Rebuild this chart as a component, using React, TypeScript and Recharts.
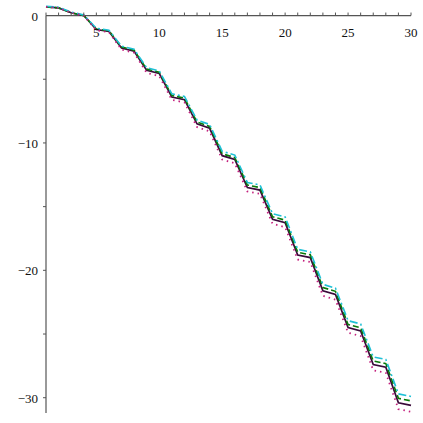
import { LineChart, Line, XAxis, YAxis, ReferenceLine } from "recharts";

const xs = [
  1, 2, 3, 4, 5, 6, 7, 8, 9, 10, 11, 12, 13, 14, 15,
  16, 17, 18, 19, 20, 21, 22, 23, 24, 25, 26, 27, 28, 29, 30,
];

const solidSeries = [
  0.68, 0.6, 0.22, 0.0, -1.1, -1.25, -2.55, -2.8, -4.3, -4.55,
  -6.4, -6.6, -8.5, -8.85, -11.0, -11.3, -13.5, -13.7, -16.0, -16.26,
  -18.8, -19.0, -21.6, -21.9, -24.5, -24.76, -27.4, -27.6, -30.4, -30.6,
];

const dashSeries = [
  0.68, 0.6, 0.22, 0.0, -1.05, -1.2, -2.47, -2.72, -4.2, -4.45,
  -6.28, -6.48, -8.35, -8.7, -10.85, -11.15, -13.3, -13.5, -15.8, -16.06,
  -18.58, -18.78, -21.35, -21.65, -24.25, -24.51, -27.12, -27.32, -30.05, -30.25,
];

const dashDotSeries = [
  0.73, 0.65, 0.27, 0.05, -1.0, -1.15, -2.4, -2.65, -4.1, -4.35,
  -6.15, -6.35, -8.2, -8.55, -10.65, -10.95, -13.1, -13.3, -15.55, -15.81,
  -18.35, -18.55, -21.1, -21.4, -23.95, -24.21, -26.8, -27.0, -29.7, -29.9,
];

const dotSeries = [
  0.68, 0.6, 0.22, 0.0, -1.15, -1.3, -2.67, -2.92, -4.5, -4.75,
  -6.62, -6.82, -8.75, -9.1, -11.3, -11.6, -13.8, -14.0, -16.35, -16.61,
  -19.15, -19.35, -22.0, -22.3, -24.9, -25.16, -27.85, -28.05, -30.9, -31.1,
];

const xTicks = xs;
const xLabels = [5, 10, 15, 20, 25, 30];
const yTicks = [0, -5, -10, -15, -20, -25, -30];
const yLabels = [0, -10, -20, -30];

const Y_MIN = -31.2;
const Y_MAX = 0.75;

const W = 423;
const H = 423;
const X_AXIS_H = 1;
const M = { top: 5, right: 12, bottom: 10, left: 0 };
const Y_AXIS_W = 46;
const plotTop = M.top + X_AXIS_H;
const plotH = H - plotTop - M.bottom;
// where y = 0 sits below the plot top
const zeroOffset = (Y_MAX / (Y_MAX - Y_MIN)) * plotH;

const font = "'Liberation Serif', 'DejaVu Serif', serif";
const axisColor = "#555";

const data = xs.map((x, i) => ({
  x,
  solid: solidSeries[i],
  dash: dashSeries[i],
  dashDot: dashDotSeries[i],
  dot: dotSeries[i],
}));

const fmt = (v: number) => (v < 0 ? `\u2212${Math.abs(v)}` : `${v}`);

function XTick(props: any) {
  const { x, payload } = props;
  const y0 = plotTop + zeroOffset;
  const v = payload.value as number;
  return (
    <g>
      <line x1={x} x2={x} y1={y0 - 3} y2={y0} stroke={axisColor} strokeWidth={1} />
      {xLabels.includes(v) && (
        <text x={x} y={y0 + 21} textAnchor="middle" fontFamily={font} fontSize={13} fill="#111">
          {v}
        </text>
      )}
    </g>
  );
}

function YTick(props: any) {
  const { x, y, payload } = props;
  const v = payload.value as number;
  return (
    <g>
      {v !== 0 && <line x1={x - 3} x2={x} y1={y} y2={y} stroke={axisColor} strokeWidth={1} />}
      {yLabels.includes(v) && (
        <text x={x - 8} y={y + 5} textAnchor="end" fontFamily={font} fontSize={13} fill="#111">
          {fmt(v)}
        </text>
      )}
    </g>
  );
}

export default function App() {
  return (
    <div style={{ position: "absolute", left: 0, top: 0, width: W, height: H, background: "#fff" }}>
      <LineChart width={W} height={H} data={data} margin={M}>
        <XAxis
          dataKey="x"
          type="number"
          domain={[1, 30]}
          ticks={xTicks}
          orientation="top"
          height={X_AXIS_H}
          axisLine={false}
          tickLine={false}
          tickSize={0}
          tickMargin={0}
          tick={<XTick />}
          interval={0}
        />
        <YAxis
          type="number"
          domain={[Y_MIN, Y_MAX]}
          ticks={yTicks}
          width={Y_AXIS_W}
          axisLine={false}
          tickLine={false}
          tickSize={0}
          tickMargin={0}
          tick={<YTick />}
          interval={0}
        />
        <ReferenceLine y={0} stroke={axisColor} strokeWidth={1.2} />
        <ReferenceLine
          segment={[
            { x: 1, y: 0 },
            { x: 1, y: Y_MIN },
          ]}
          stroke={axisColor}
          strokeWidth={1.2}
        />
        <Line
          dataKey="solid"
          stroke="#3a0a3a"
          strokeWidth={1.7}
          dot={false}
          isAnimationActive={false}
        />
        <Line
          dataKey="dash"
          stroke="#0a7a0a"
          strokeWidth={1.6}
          strokeDasharray="6 3"
          dot={false}
          isAnimationActive={false}
        />
        <Line
          dataKey="dashDot"
          stroke="#1fc0d6"
          strokeWidth={1.6}
          strokeDasharray="8 3 2 3"
          dot={false}
          isAnimationActive={false}
        />
        <Line
          dataKey="dot"
          stroke="#c4207e"
          strokeWidth={1.8}
          strokeDasharray="1.5 4"
          dot={false}
          isAnimationActive={false}
        />
      </LineChart>
    </div>
  );
}
